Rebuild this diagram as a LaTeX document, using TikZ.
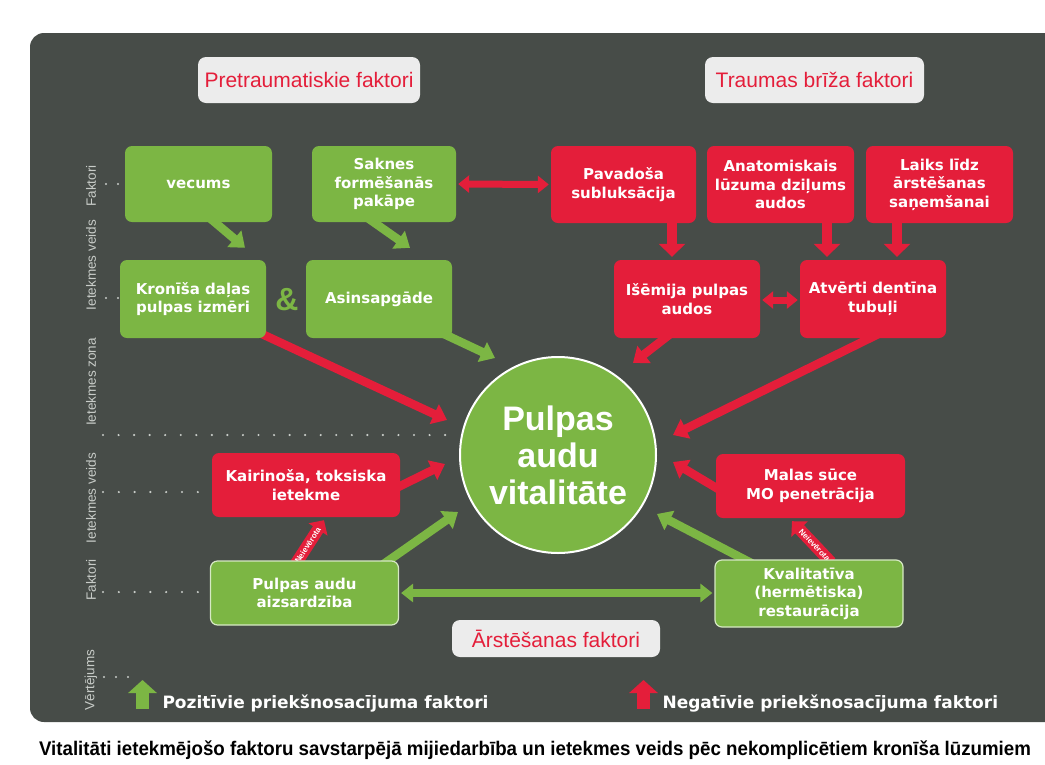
\documentclass[tikz,border=0pt]{standalone}
\usepackage{fontspec}
\setmainfont{DejaVu Sans}
\newfontfamily\labelfont{DejaVu Sans}
\newfontfamily\headfont{Liberation Sans}
\newfontfamily\capfont[FakeStretch=0.95]{Liberation Sans}
\usetikzlibrary{arrows.meta,calc}

\pgfdeclarelayer{back}
\pgfdeclarelayer{links}
\pgfsetlayers{back,links,main}

\definecolor{panel}{RGB}{71,76,72}
\definecolor{leaf}{RGB}{124,182,68}
\definecolor{alarm}{RGB}{228,30,58}
\definecolor{tag}{RGB}{236,236,236}
\definecolor{axis}{RGB}{200,204,200}
\definecolor{rim}{RGB}{214,232,196}

\begin{document}
\begin{tikzpicture}[x=1pt,y=-1pt,
  factor/.style={rounded corners=7pt, inner sep=0pt, align=center, text=white,
    font=\labelfont\bfseries\fontsize{15}{18.5}\selectfont},
  posbox/.style={factor, fill=leaf},
  negbox/.style={factor, fill=alarm},
  carebox/.style={posbox, draw=rim, line width=1.2pt},
  header/.style={rounded corners=8pt, fill=tag, text=alarm, inner sep=0pt,
    font=\headfont\fontsize{21}{24}\selectfont},
  axislabel/.style={rotate=90, text=axis, font=\headfont\fontsize{13.5}{15}\selectfont},
  posarrow/.style={draw=leaf, line width=8.5pt, -{Triangle[length=14pt,width=21pt]}},
  negarrow/.style={draw=alarm, line width=8.5pt, -{Triangle[length=14pt,width=21pt]}},
  downarrow/.style={draw=alarm, line width=10pt, -{Triangle[length=13pt,width=26pt]}},
  posboth/.style={draw=leaf, line width=7.5pt,
    {Triangle[length=12pt,width=18pt]}-{Triangle[length=12pt,width=18pt]}},
  negboth/.style={draw=alarm, line width=7pt,
    {Triangle[length=11pt,width=17pt]}-{Triangle[length=11pt,width=17pt]}},
  ignored/.style={draw=alarm, line width=12pt, -{Triangle[length=11pt,width=22pt]}},
  ignoredtext/.style={text=white, font=\headfont\bfseries\fontsize{8}{8}\selectfont,
    sloped, inner sep=0pt},
]
\useasboundingbox (0,0) rectangle (1045,764);

% dark board
\begin{pgfonlayer}{back}
  \fill[panel, rounded corners=14pt] (30,33) rectangle (1070,722);
\end{pgfonlayer}

% group headings
\node[header, minimum width=222pt, minimum height=46pt] (pre) at (309,80) {Pretraumatiskie faktori};
\node[header, minimum width=219pt, minimum height=46pt] (trauma) at (814.5,80) {Traumas brīža faktori};
\node[header, minimum width=208pt, minimum height=37pt] (care) at (556,638.5) {Ārstēšanas faktori};

% row labels on the left edge
\node[axislabel] (r1) at (91,186) {Faktori};
\node[axislabel] (r2) at (91,265) {Ietekmes veids};
\node[axislabel] (r3) at (91,382) {Ietekmes zona};
\node[axislabel] (r4) at (91,498) {Ietekmes veids};
\node[axislabel] (r5) at (91,580) {Faktori};
\node[axislabel] (r6) at (91,680) {Vērtējums};

% dotted guides
\foreach \x in {106,118} { \fill[axis] (\x,184) circle (1.2); \fill[axis] (\x,298) circle (1.2); }
\foreach \i in {0,...,22} { \fill[axis] (103+\i*15.55,435) circle (1.2); }
\foreach \i in {0,...,6} { \fill[axis] (103+\i*15.8,492) circle (1.2); \fill[axis] (103+\i*15.8,592) circle (1.2); }
\foreach \x in {104,116,128} { \fill[axis] (\x,677) circle (1.2); }

% central outcome
\node[circle, fill=leaf, draw=white, line width=2pt, minimum size=196pt, inner sep=0pt,
  align=center, text=white, font=\headfont\bfseries\fontsize{34}{37}\selectfont]
  (circ) at (558,455) {Pulpas\\audu\\vitalitāte};

% pre-traumatic factors
\node[posbox, minimum width=147pt, minimum height=76pt] (vecums) at (198.5,184) {vecums};
\node[posbox, minimum width=144pt, minimum height=76pt] (sakn) at (384,184) {Saknes\\formēšanās\\pakāpe};
\node[posbox, minimum width=146pt, minimum height=78pt] (kron) at (193,299) {Kronīša daļas\\pulpas izmēri};
\node[posbox, minimum width=146pt, minimum height=78pt] (asins) at (379,299) {Asinsapgāde};
\node[text=leaf, font=\headfont\bfseries\fontsize{32}{32}\selectfont] (amp) at (287,300) {\&};

% trauma factors
\node[negbox, minimum width=145pt, minimum height=77pt] (pav) at (623.5,184.5) {Pavadoša\\subluksācija};
\node[negbox, minimum width=147pt, minimum height=77pt] (anat) at (780.5,184.5) {Anatomiskais\\lūzuma dziļums\\audos};
\node[negbox, minimum width=147pt, minimum height=77pt] (laiks) at (939.5,184.5) {Laiks līdz\\ārstēšanas\\saņemšanai};
\node[negbox, minimum width=146pt, minimum height=78pt] (isem) at (687,299) {Išēmija pulpas\\audos};
\node[negbox, minimum width=146pt, minimum height=78pt] (atv) at (873,299) {Atvērti dentīna\\tubuļi};

% treatment-related influences and factors
\node[negbox, minimum width=188pt, minimum height=64pt] (kair) at (306,485) {Kairinoša, toksiska\\ietekme};
\node[negbox, minimum width=189pt, minimum height=64pt] (malas) at (810.5,486) {Malas sūce\\MO penetrācija};
\node[carebox, minimum width=188pt, minimum height=64pt] (aizs) at (304.5,593) {Pulpas audu\\aizsardzība};
\node[carebox, minimum width=188pt, minimum height=67pt] (kval) at (809,593.5) {Kvalitatīva\\(hermētiska)\\restaurācija};

\begin{pgfonlayer}{links}
  % pre-traumatic chain
  \draw[posarrow] ($(vecums.south)+(11.5,-4)$) -- ($(kron.north)+(52,-12)$);
  \draw[posarrow] ($(sakn.south)+(-16,-4)$) -- ($(asins.north)+(31,-12)$);
  \draw[negboth] ($(sakn.east)+(2,0)$) -- ($(pav.west)+(-2,0)$);
  % trauma chain
  \draw[downarrow] ($(pav.south)+(48.5,-3)$) -- ($(isem.north)+(-15,-3)$);
  \draw[downarrow] ($(anat.south)+(46.5,-3)$) -- ($(atv.north)+(-46,-3)$);
  \draw[downarrow] ($(laiks.south)+(-42.5,-3)$) -- ($(atv.north)+(24,-3)$);
  \draw[negboth] ($(isem.east)+(2,1)$) -- ($(atv.west)+(-2,1)$);
  % influences on the pulp
  \draw[negarrow] ($(kron.south east)+(-6,-5)$) -- ($(circ.center)+(-111,-35)$);
  \draw[posarrow] ($(asins.south east)+(-10,-5)$) -- ($(circ.center)+(-63,-97)$);
  \draw[negarrow] ($(isem.south)+(-17,-4)$) -- ($(circ.center)+(75,-92)$);
  \draw[negarrow] ($(atv.south)+(5,-4)$) -- ($(circ.center)+(115,-20)$);
  \draw[negarrow] ($(kair.east)+(-4,3)$) -- ($(circ.center)+(-113,9)$);
  \draw[negarrow] ($(malas.west)+(4,4)$) -- ($(circ.center)+(115,7)$);
  \draw[posarrow] ($(aizs.north)+(78.5,4)$) -- ($(circ.center)+(-100,57)$);
  \draw[posarrow] ($(kval.north)+(-57,4)$) -- ($(circ.center)+(99,59)$);
  % treatment links
  \draw[posboth] ($(aizs.east)+(2,0)$) -- ($(kval.west)+(-2,-0.5)$);
  \draw[ignored] ($(aizs.north)+(-8.5,3)$) -- ($(kair.south)+(18,3)$)
    node[ignoredtext, pos=0.42] {Neievērota};
  \draw[ignored] ($(kval.north)+(22,3)$) -- ($(malas.south)+(-18.5,3)$)
    node[ignoredtext, pos=0.42] {Neievērota};
\end{pgfonlayer}

% legend
\draw[leaf, line width=13pt, -{Triangle[length=13pt,width=28pt]}] (142.5,709) -- (142.5,680);
\node[anchor=base west, text=white, font=\labelfont\bfseries\fontsize{17}{20}\selectfont]
  (posleg) at (159,708) {Pozitīvie priekšnosacījuma faktori};
\draw[alarm, line width=13pt, -{Triangle[length=13pt,width=28pt]}] (643.5,709) -- (643.5,680);
\node[anchor=base west, text=white, font=\labelfont\bfseries\fontsize{17}{20}\selectfont]
  (negleg) at (659,708) {Negatīvie priekšnosacījuma faktori};

% caption
\node[anchor=base, text=black, font=\capfont\bfseries\fontsize{19.7}{22}\selectfont]
  (caption) at (535,755) {Vitalitāti ietekmējošo faktoru savstarpējā mijiedarbība un ietekmes veids pēc nekomplicētiem kronīša lūzumiem};
\end{tikzpicture}
\end{document}
